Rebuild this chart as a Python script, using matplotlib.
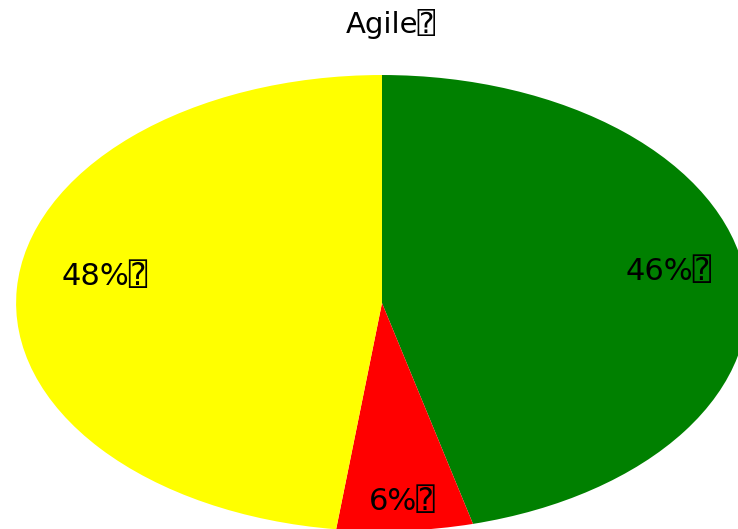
import numpy as np
import matplotlib.pyplot as plt

# Data
labels = ['Green', 'Red', 'Yellow']
shares = [46, 6, 48]
colors = ['#008000', '#ff0000', '#ffff00']
title = 'Agile\u2370'
label_dist = [0.79, 0.9, 0.76]
label_lift = [0.04, 0.03, 0.07]

plt.rcParams['font.family'] = ['DejaVu Sans', 'DejaVu Sans Mono']

fig = plt.figure(figsize=(7.38, 5.29), dpi=100)
ax = fig.add_axes([0, 0, 1, 1])

wedges, texts, autotexts = ax.pie(
    shares, colors=colors, startangle=90, counterclock=False,
    autopct=lambda p: f'{p:.0f}%\u2370',
    textprops={'fontsize': 22, 'color': 'black'},
    wedgeprops={'linewidth': 0})

# put each percentage at its own distance along the wedge's middle
for w, t, d, up in zip(wedges, autotexts, label_dist, label_lift):
    mid = np.deg2rad((w.theta1 + w.theta2) / 2)
    t.set_position((d * np.cos(mid), d * np.sin(mid) + up))

# pie is stretched into an ellipse and cropped at right and bottom
ax.set_aspect('auto')
ax.set_xlim(-1.044, 0.973)
ax.set_ylim(-0.991, 1.329)
ax.axis('off')

fig.text(0.53, 0.955, title, ha='center', va='center', fontsize=21)

fig.savefig('out.png', dpi=100)
